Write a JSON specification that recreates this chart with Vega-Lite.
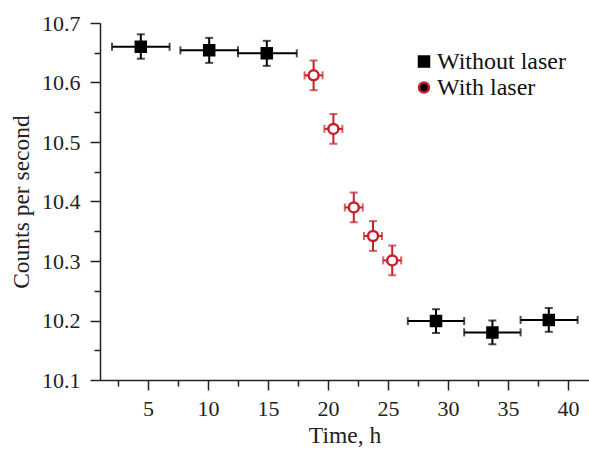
{
  "$schema": "https://vega.github.io/schema/vega-lite/v6.json",
  "width": 489,
  "height": 357,
  "autosize": "none",
  "padding": {"left": 100, "top": 23, "right": 0, "bottom": 70},
  "background": "white",
  "config": {
    "view": {"stroke": null},
    "font": "Liberation Serif",
    "axis": {"grid": false, "domainColor": "#222", "domainWidth": 1.5, "tickColor": "#222", "tickWidth": 1.5,
      "labelFont": "Liberation Serif", "titleFont": "Liberation Serif", "labelFontSize": 22, "titleFontSize": 23.5,
      "labelColor": "#222", "titleColor": "#222", "titleFontWeight": "normal"},
    "legend": {"labelFont": "Liberation Serif", "labelFontSize": 24, "labelColor": "#111"}
  },
  "resolve": {"axis": {"x": "independent", "y": "independent"}},
  "data": {"values": [
    {"t": 4.4, "tlo": 2.0, "thi": 6.8, "c": 10.660, "clo": 10.640, "chi": 10.681, "series": "Without laser"},
    {"t": 10.1, "tlo": 7.7, "thi": 12.5, "c": 10.654, "clo": 10.633, "chi": 10.675, "series": "Without laser"},
    {"t": 14.9, "tlo": 12.5, "thi": 17.4, "c": 10.649, "clo": 10.628, "chi": 10.670, "series": "Without laser"},
    {"t": 18.8, "tlo": 18.05, "thi": 19.55, "c": 10.612, "clo": 10.587, "chi": 10.637, "series": "With laser"},
    {"t": 20.45, "tlo": 19.7, "thi": 21.2, "c": 10.522, "clo": 10.497, "chi": 10.547, "series": "With laser"},
    {"t": 22.15, "tlo": 21.4, "thi": 22.9, "c": 10.390, "clo": 10.365, "chi": 10.415, "series": "With laser"},
    {"t": 23.75, "tlo": 23.0, "thi": 24.5, "c": 10.342, "clo": 10.317, "chi": 10.367, "series": "With laser"},
    {"t": 25.35, "tlo": 24.6, "thi": 26.1, "c": 10.301, "clo": 10.276, "chi": 10.326, "series": "With laser"},
    {"t": 29.0, "tlo": 26.65, "thi": 31.35, "c": 10.199, "clo": 10.179, "chi": 10.219, "series": "Without laser"},
    {"t": 33.7, "tlo": 31.35, "thi": 36.05, "c": 10.180, "clo": 10.160, "chi": 10.200, "series": "Without laser"},
    {"t": 38.4, "tlo": 36.05, "thi": 40.8, "c": 10.201, "clo": 10.181, "chi": 10.221, "series": "Without laser"}
  ]},
  "layer": [
    {
      "mark": {"type": "errorbar", "ticks": {"size": 8, "thickness": 2}, "thickness": 2},
      "encoding": {
        "x": {"field": "tlo", "type": "quantitative", "scale": {"domain": [1, 41.75], "nice": false, "zero": false},
          "title": "Time, h",
          "axis": {"orient": "bottom", "values": [5, 10, 15, 20, 25, 30, 35, 40], "tickSize": 10,
            "labelPadding": 8, "titlePadding": 4}},
        "x2": {"field": "thi"},
        "y": {"field": "c", "type": "quantitative", "scale": {"domain": [10.1, 10.7], "nice": false, "zero": false},
          "title": "Counts per second",
          "axis": {"orient": "left", "values": [10.1, 10.2, 10.3, 10.4, 10.5, 10.6, 10.7], "format": ".1f", "tickSize": 10,
            "labelPadding": 10, "titlePadding": 8}},
        "color": {"condition": {"test": "datum.series == 'With laser'", "value": "#c8202b"}, "value": "#000000"}
      }
    },
    {
      "mark": {"type": "errorbar", "ticks": {"size": 8, "thickness": 2}, "thickness": 2},
      "encoding": {
        "y": {"field": "clo", "type": "quantitative", "axis": null},
        "y2": {"field": "chi"},
        "x": {"field": "t", "type": "quantitative", "axis": null},
        "color": {"condition": {"test": "datum.series == 'With laser'", "value": "#c8202b"}, "value": "#000000"}
      }
    },
    {
      "mark": {"type": "point", "filled": false, "strokeWidth": 2.5, "opacity": 1},
      "encoding": {
        "x": {"field": "t", "type": "quantitative",
          "axis": {"orient": "bottom", "values": [2.5, 7.5, 12.5, 17.5, 22.5, 27.5, 32.5, 37.5], "tickSize": 6, "labels": false, "domain": false, "title": null}},
        "y": {"field": "c", "type": "quantitative",
          "axis": {"orient": "left", "values": [10.15, 10.25, 10.35, 10.45, 10.55, 10.65], "tickSize": 6, "labels": false, "domain": false, "title": null}},
        "shape": {"field": "series", "type": "nominal", "scale": {"domain": ["Without laser", "With laser"], "range": ["square", "circle"]},
          "legend": {"title": null, "orient": "none", "legendX": 312, "legendY": 26.5, "symbolSize": 100, "rowPadding": 2, "labelOffset": 1, "symbolStrokeWidth": 2.5,
            "encode": {"symbols": {"fill": {"value": {"expr": "datum.label == 'With laser' ? '#ffffff' : '#000000'"}}, "opacity": {"value": 1}, "fillOpacity": {"value": 1}, "strokeWidth": {"value": 2.5}}}}},
        "color": {"field": "series", "type": "nominal", "scale": {"domain": ["Without laser", "With laser"], "range": ["#000000", "#c8202b"]},
          "legend": {"title": null, "orient": "none", "legendX": 312, "legendY": 26.5, "symbolSize": 100, "rowPadding": 2, "labelOffset": 1, "symbolStrokeWidth": 2.5,
            "encode": {"symbols": {"fill": {"value": {"expr": "datum.label == 'With laser' ? '#ffffff' : '#000000'"}}, "opacity": {"value": 1}, "fillOpacity": {"value": 1}, "strokeWidth": {"value": 2.5}}}}},
        "fill": {"condition": {"test": "datum.series == 'With laser'", "value": "#ffffff"}, "value": "#000000"},
        "size": {"value": 100}
      }
    }
  ]
}
